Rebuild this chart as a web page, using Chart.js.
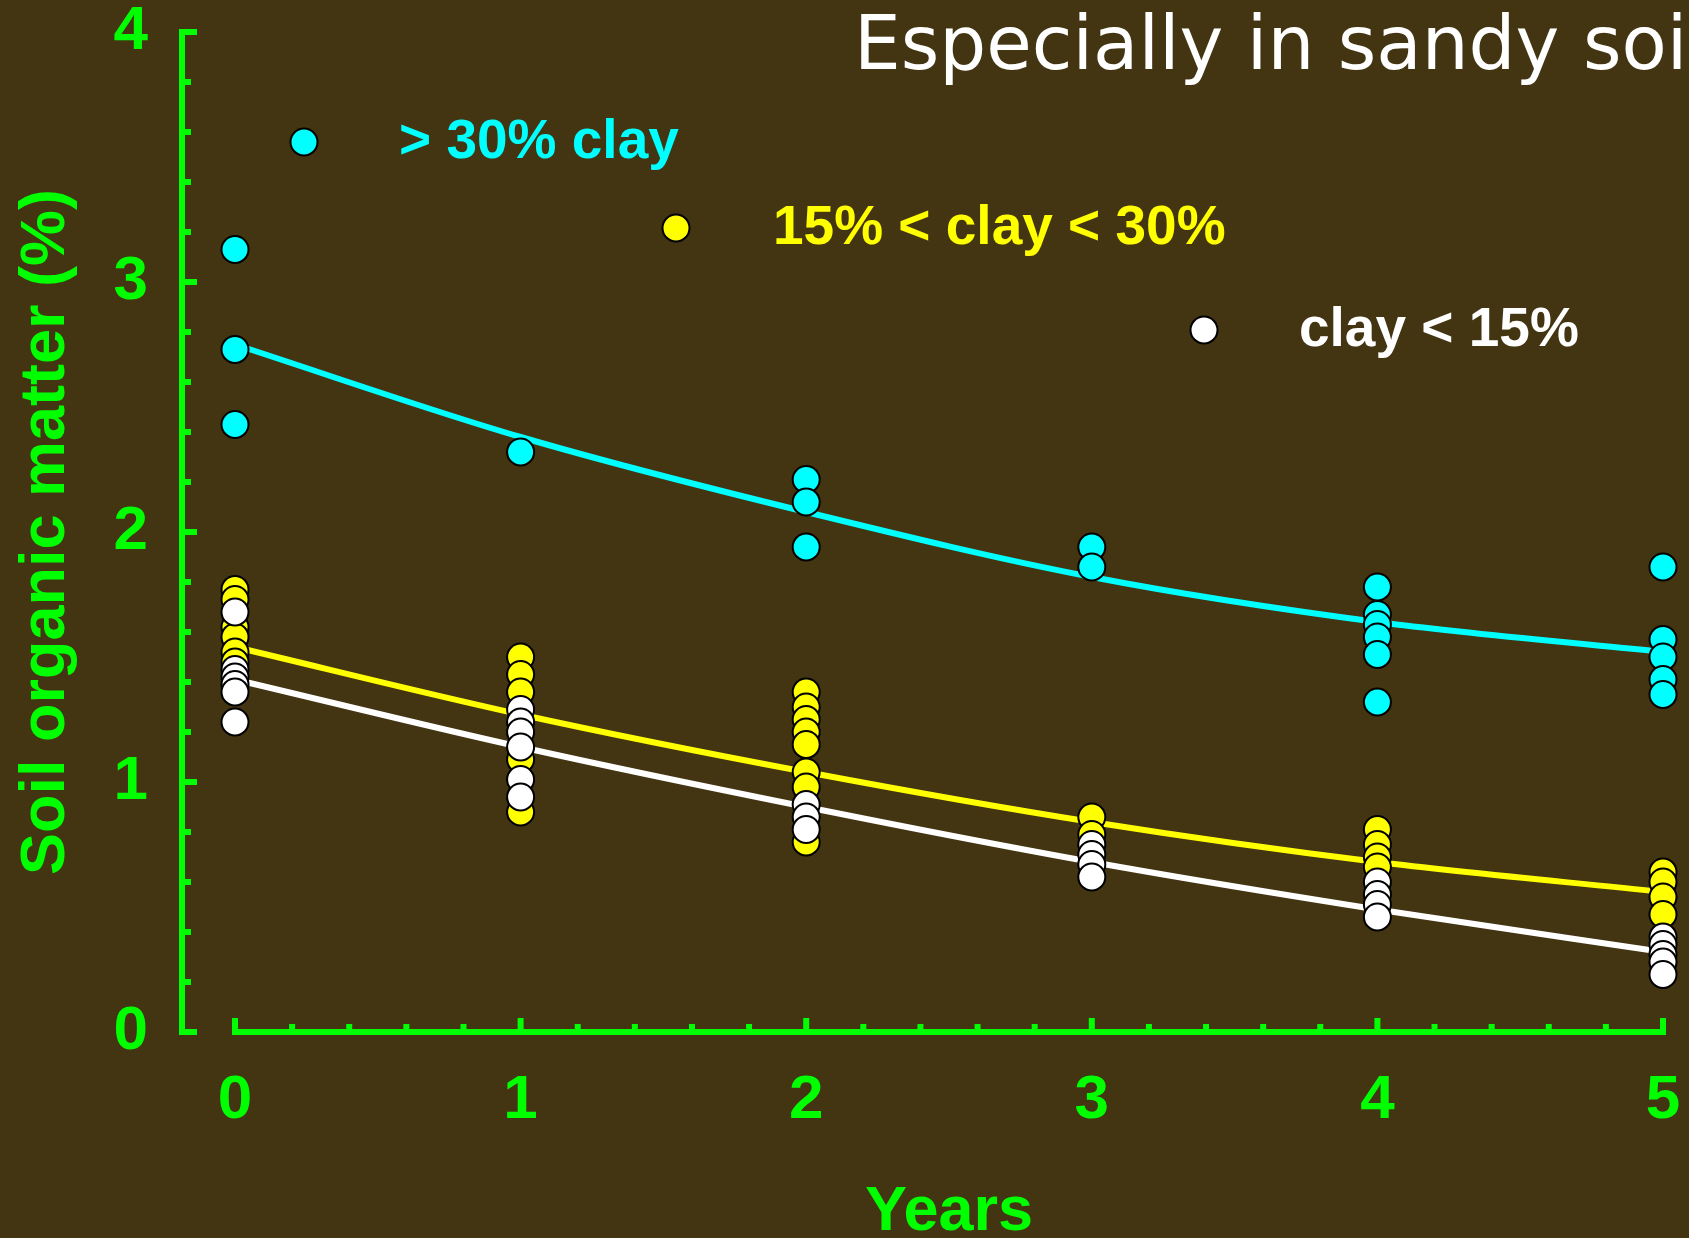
<!DOCTYPE html>
<html>
<head>
<meta charset="utf-8">
<title>Soil organic matter over time</title>
<script src="https://cdn.jsdelivr.net/npm/chart.js@4.4.1/dist/chart.umd.min.js"></script>
<style>
  html, body { margin: 0; padding: 0; background: #433512; overflow: hidden; }
  canvas { display: block; }
</style>
</head>
<body>
<canvas id="chart" width="1689" height="1238"></canvas>
<script>
// ---- Data -------------------------------------------------------------
// Measured soil organic matter (%) per plot, by years since start.
const highClayYears  = [0, 0, 0, 1, 2, 2, 2, 3, 3, 4, 4, 4, 4, 4, 4, 5, 5, 5, 5, 5];
const highClayValues = [3.13, 2.73, 2.43, 2.32, 2.21, 2.12, 1.94, 1.94, 1.86,
                        1.78, 1.67, 1.63, 1.58, 1.51, 1.32, 1.86, 1.57, 1.50, 1.41, 1.35];

const midClayYears  = [0, 0, 0, 0, 0, 0, 1, 1, 1, 1, 1, 2, 2, 2, 2, 2, 2, 2, 2, 3, 3, 4, 4, 4, 4, 5, 5, 5, 5];
const midClayValues = [1.77, 1.73, 1.62, 1.58, 1.52, 1.48, 1.50, 1.43, 1.36, 1.09, 0.88,
                       1.36, 1.30, 1.25, 1.20, 1.15, 1.04, 0.98, 0.76, 0.86, 0.79,
                       0.81, 0.75, 0.70, 0.66, 0.64, 0.60, 0.54, 0.47];

const lowClayYears  = [0, 0, 0, 0, 0, 0, 1, 1, 1, 1, 1, 1, 2, 2, 2, 3, 3, 3, 3, 4, 4, 4, 4, 5, 5, 5, 5, 5];
const lowClayValues = [1.68, 1.45, 1.42, 1.39, 1.36, 1.24, 1.29, 1.24, 1.20, 1.14, 1.01, 0.94,
                       0.91, 0.86, 0.81, 0.75, 0.71, 0.67, 0.62, 0.60, 0.55, 0.51, 0.46,
                       0.38, 0.35, 0.31, 0.28, 0.23];

// Fitted decline curves
const fitYears        = [0, 1, 2, 3, 4, 5];
const highClayFit     = [2.75, 2.38, 2.08, 1.82, 1.64, 1.52];
const midClayFit      = [1.54, 1.27, 1.04, 0.84, 0.68, 0.56];
const lowClayFit      = [1.41, 1.14, 0.90, 0.68, 0.49, 0.32];

// Axes
const xTickValues = [0, 1, 2, 3, 4, 5];
const yTickValues = [0, 1, 2, 3, 4];
const minorStep = 0.2;

// Labels
const seriesLabels = ['> 30% clay', '15% < clay < 30%', 'clay < 15%'];
const headline = 'Especially in sandy soils';
const xTitle = 'Years';
const yTitle = 'Soil organic matter (%)';

// ---- Styling ----------------------------------------------------------
const BG = '#433512';
const GREEN = '#00ff00';
const CYAN = '#00ffff';
const YELLOW = '#ffff00';
const WHITE = '#ffffff';
const SANS = '"Liberation Sans", Arial, Helvetica, sans-serif';

const toPoints = (xs, ys) => xs.map((v, i) => ({ x: v, y: ys[i] }));

function pointSet(label, xs, ys, color, order) {
  return {
    type: 'scatter',
    label,
    data: toPoints(xs, ys),
    backgroundColor: color,
    borderColor: '#000000',
    borderWidth: 2,
    pointRadius: 13.5,
    pointHoverRadius: 13.5,
    clip: false,
    order
  };
}

function fitSet(label, ys, color, order) {
  return {
    type: 'line',
    label,
    data: toPoints(fitYears, ys),
    borderColor: color,
    borderWidth: 6,
    pointRadius: 0,
    fill: false,
    cubicInterpolationMode: 'monotone',
    clip: false,
    order
  };
}

// Background, axis lines and inward-pointing tick marks
const axesPlugin = {
  id: 'axesPlugin',
  beforeDraw(chart) {
    const { ctx, width, height } = chart;
    ctx.save();
    ctx.fillStyle = BG;
    ctx.fillRect(0, 0, width, height);
    ctx.restore();
  },
  beforeDatasetsDraw(chart) {
    const { ctx, scales: { x, y } } = chart;
    const yMin = yTickValues[0], yMax = yTickValues[yTickValues.length - 1];
    const xMin = xTickValues[0], xMax = xTickValues[xTickValues.length - 1];
    const axisX = x.getPixelForValue(xMin) - 53;
    const axisY = y.getPixelForValue(yMin);
    ctx.save();
    ctx.strokeStyle = GREEN;
    ctx.lineWidth = 6;
    ctx.lineCap = 'butt';
    ctx.beginPath();
    // vertical axis
    ctx.moveTo(axisX, y.getPixelForValue(yMax) - 3);
    ctx.lineTo(axisX, axisY + 3);
    const ySteps = Math.round((yMax - yMin) / minorStep);
    for (let i = 0; i <= ySteps; i++) {
      const py = y.getPixelForValue(yMin + i * minorStep);
      const major = i % 5 === 0;
      ctx.moveTo(axisX - 3, py);
      ctx.lineTo(axisX + (major ? 15 : 9), py);
    }
    // horizontal axis
    ctx.moveTo(x.getPixelForValue(xMin) - 3, axisY);
    ctx.lineTo(x.getPixelForValue(xMax) + 3, axisY);
    const xSteps = Math.round((xMax - xMin) / minorStep);
    for (let i = 0; i <= xSteps; i++) {
      const px = x.getPixelForValue(xMin + i * minorStep);
      const major = i % 5 === 0;
      ctx.moveTo(px, axisY + 3);
      ctx.lineTo(px, axisY - (major ? 14 : 8));
    }
    ctx.stroke();
    ctx.restore();
  },
  afterDraw(chart) {
    const { ctx } = chart;
    ctx.save();
    // headline (runs past the right edge)
    ctx.fillStyle = WHITE;
    ctx.font = '74px "DejaVu Sans", Verdana, sans-serif';
    ctx.textAlign = 'left';
    ctx.textBaseline = 'alphabetic';
    ctx.fillText(headline, 854, 69);

    // series key
    const keys = [
      { cx: 304, cy: 142, tx: 399, color: CYAN,   text: seriesLabels[0] },
      { cx: 676, cy: 228, tx: 773, color: YELLOW, text: seriesLabels[1] },
      { cx: 1204, cy: 330, tx: 1299, color: WHITE, text: seriesLabels[2] }
    ];
    ctx.font = 'bold 55px ' + SANS;
    ctx.textBaseline = 'middle';
    keys.forEach(k => {
      ctx.beginPath();
      ctx.arc(k.cx, k.cy, 13.5, 0, Math.PI * 2);
      ctx.fillStyle = k.color;
      ctx.fill();
      ctx.lineWidth = 2;
      ctx.strokeStyle = '#000000';
      ctx.stroke();
      ctx.fillStyle = k.color;
      ctx.fillText(k.text, k.tx, k.cy + 1);
    });
    ctx.restore();
  }
};

new Chart(document.getElementById('chart'), {
  data: {
    datasets: [
      pointSet(seriesLabels[2], lowClayYears, lowClayValues, WHITE, 0),
      pointSet(seriesLabels[1], midClayYears, midClayValues, YELLOW, 1),
      pointSet(seriesLabels[0], highClayYears, highClayValues, CYAN, 2),
      fitSet('fit ' + seriesLabels[2], lowClayFit, WHITE, 3),
      fitSet('fit ' + seriesLabels[1], midClayFit, YELLOW, 4),
      fitSet('fit ' + seriesLabels[0], highClayFit, CYAN, 5)
    ]
  },
  options: {
    responsive: false,
    animation: false,
    events: [],
    layout: { autoPadding: false, padding: { top: 32, right: 26, bottom: 0, left: 0 } },
    plugins: {
      legend: { display: false },
      tooltip: { enabled: false },
      title: { display: false }
    },
    scales: {
      x: {
        type: 'linear',
        position: 'bottom',
        min: xTickValues[0],
        max: xTickValues[xTickValues.length - 1],
        afterBuildTicks(scale) { scale.ticks = xTickValues.map(v => ({ value: v })); },
        afterFit(scale) {
          scale.height = 206;
          scale.paddingLeft = 0;
          scale.paddingRight = 0;
        },
        grid: { display: false },
        border: { display: false },
        ticks: {
          color: GREEN,
          font: { family: SANS, size: 62, weight: 'bold', lineHeight: 1 },
          padding: 30,
          maxRotation: 0,
          autoSkip: false
        },
        title: {
          display: true,
          text: xTitle,
          color: GREEN,
          font: { family: SANS, size: 63, weight: 'bold', lineHeight: 0.8 },
          padding: { top: 0, bottom: 0 }
        }
      },
      y: {
        type: 'linear',
        position: 'left',
        min: yTickValues[0],
        max: yTickValues[yTickValues.length - 1],
        afterBuildTicks(scale) { scale.ticks = yTickValues.map(v => ({ value: v })); },
        afterFit(scale) {
          scale.width = 235;
          scale.paddingTop = 0;
          scale.paddingBottom = 0;
        },
        grid: { display: false },
        border: { display: false },
        ticks: {
          color: GREEN,
          font: { family: SANS, size: 62, weight: 'bold', lineHeight: 1 },
          padding: 79,
          autoSkip: false
        },
        title: {
          display: true,
          text: yTitle,
          color: GREEN,
          font: { family: SANS, size: 63, weight: 'bold', lineHeight: 1.2 },
          padding: { top: 9, bottom: 0 }
        }
      }
    }
  },
  plugins: [axesPlugin]
});
</script>
</body>
</html>
